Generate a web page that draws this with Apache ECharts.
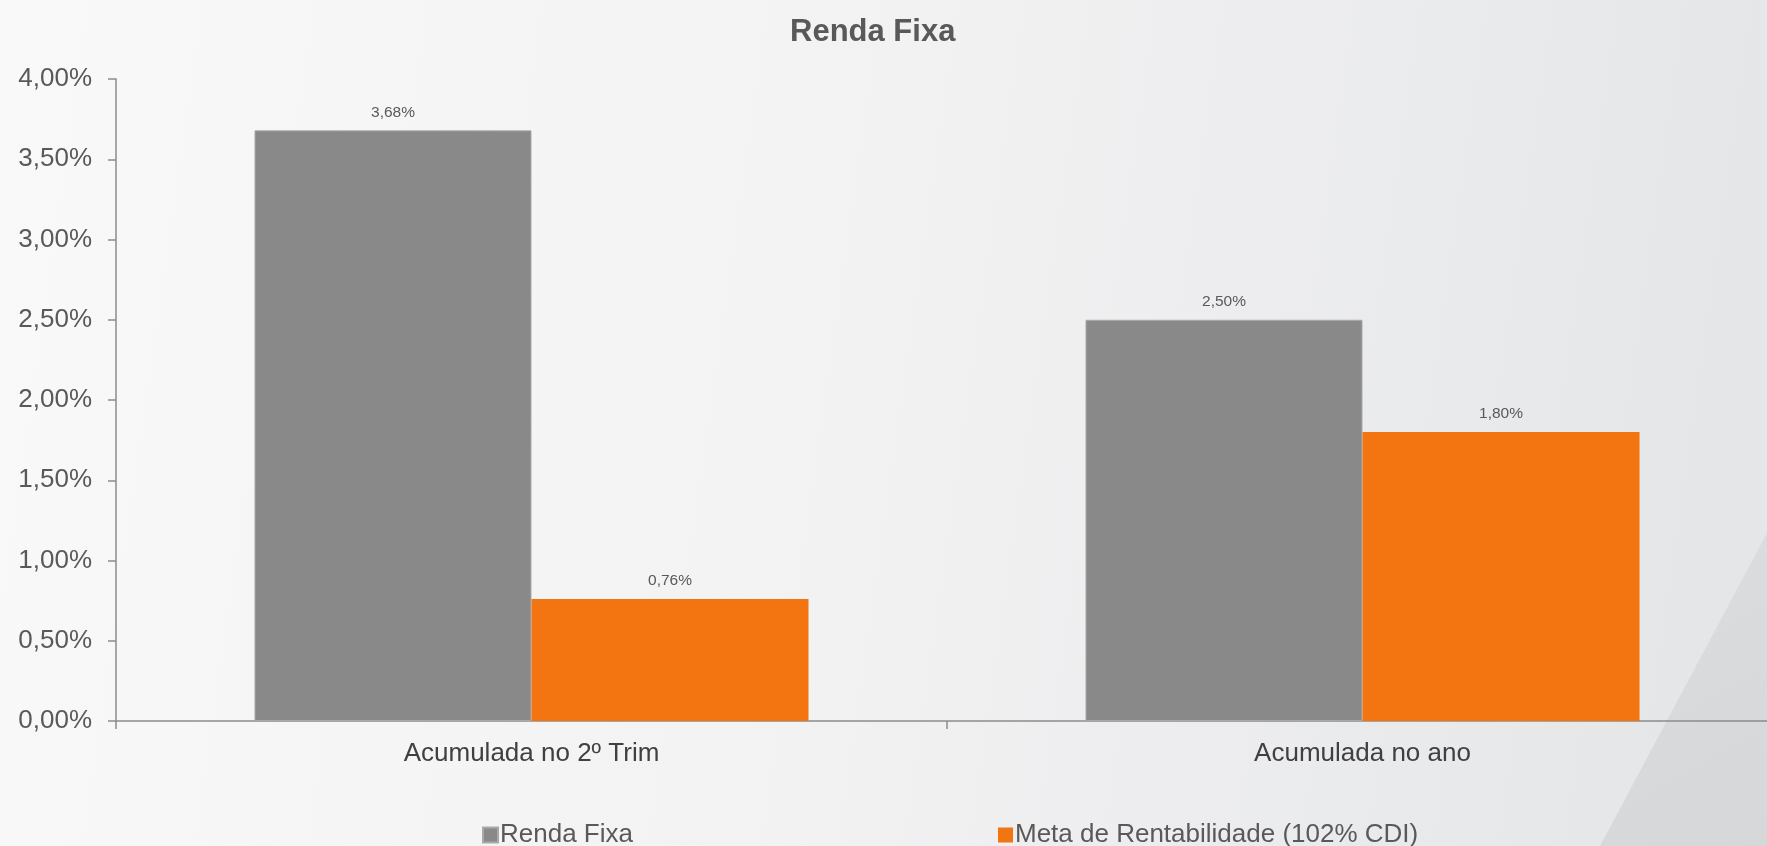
<!DOCTYPE html>
<html><head><meta charset="utf-8">
<script src="https://cdn.jsdelivr.net/npm/echarts@6/dist/echarts.min.js"></script>
<style>html,body{margin:0;padding:0;background:#f5f5f6;overflow:hidden}#c{width:1778px;height:846px}</style>
</head><body><div id="c"></div>
<script>
const categories = ['Acumulada no 2º Trim', 'Acumulada no ano'];
const seriesNames = ['Renda Fixa', 'Meta de Rentabilidade (102% CDI)'];
const rendaFixa = [3.68, 2.50];
const meta = [0.76, 1.80];

const fmt = v => v.toFixed(2).replace('.', ',') + '%';
const FONT = '"Liberation Sans", Arial, sans-serif';
const chart = echarts.init(document.getElementById('c'), null, {renderer: 'canvas'});
chart.setOption({
  backgroundColor: {
    type: 'linear', x: 0, y: 0, x2: 1, y2: 0.3,
    colorStops: [{offset: 0, color: '#f9f9fa'}, {offset: 0.5, color: '#f2f2f3'}, {offset: 1, color: '#e5e6e8'}]
  },
  animation: false,
  graphic: [{
    type: 'polygon', silent: true, z: -1,
    shape: {points: [[1767, 533], [1778, 533], [1778, 846], [1600, 846]]},
    style: {fill: {type: 'linear', x: 0, y: 0, x2: 1, y2: 1,
      colorStops: [{offset: 0, color: '#dcdddf'}, {offset: 1, color: '#d6d7d9'}]}}
  }],
  title: {
    text: 'Renda Fixa', left: 785, top: 12,
    textStyle: {fontFamily: FONT, fontSize: 31, fontWeight: 'bold', color: '#595959'}
  },
  legend: [
    {data: [seriesNames[0]], left: 477, top: 817, itemWidth: 15, itemHeight: 15, itemGap: 3,
     icon: 'rect', textStyle: {fontFamily: FONT, fontSize: 26, color: '#595959', padding: [0, 0, 0, -3]}},
    {data: [seriesNames[1]], left: 993, top: 817, itemWidth: 15, itemHeight: 15, itemGap: 3,
     icon: 'rect', textStyle: {fontFamily: FONT, fontSize: 26, color: '#595959', padding: [0, 0, 0, -3]}}
  ],
  grid: {left: 116, right: 0, top: 79, bottom: 125, containLabel: false},
  xAxis: {
    type: 'category', data: categories,
    axisLine: {lineStyle: {color: '#8c8c8c', width: 1.5}},
    axisTick: {show: true, length: 8, lineStyle: {color: '#8c8c8c', width: 1.5}},
    axisLabel: {fontFamily: FONT, fontSize: 26, color: '#404040', margin: 20}
  },
  yAxis: {
    type: 'value', min: 0, max: 4, interval: 0.5,
    splitLine: {show: false},
    axisLine: {show: true, lineStyle: {color: '#8c8c8c', width: 1.5}},
    axisTick: {show: true, length: 8, lineStyle: {color: '#8c8c8c', width: 1.5}},
    axisLabel: {fontFamily: FONT, fontSize: 26, color: '#595959', margin: 24,
      formatter: v => fmt(v)}
  },
  series: [
    {name: seriesNames[0], type: 'bar', data: rendaFixa, barWidth: 277, barGap: '0%',
     itemStyle: {color: '#898989', borderColor: '#a9a9a9', borderWidth: 1},
     label: {show: true, position: 'top', distance: 10, fontFamily: FONT, fontSize: 15.5, color: '#595959',
       formatter: p => fmt(p.value)}},
    {name: seriesNames[1], type: 'bar', data: meta, barWidth: 277, barGap: '0%',
     itemStyle: {color: '#f27512'},
     label: {show: true, position: 'top', distance: 10, fontFamily: FONT, fontSize: 15.5, color: '#595959',
       formatter: p => fmt(p.value)}}
  ]
});
</script></body></html>
